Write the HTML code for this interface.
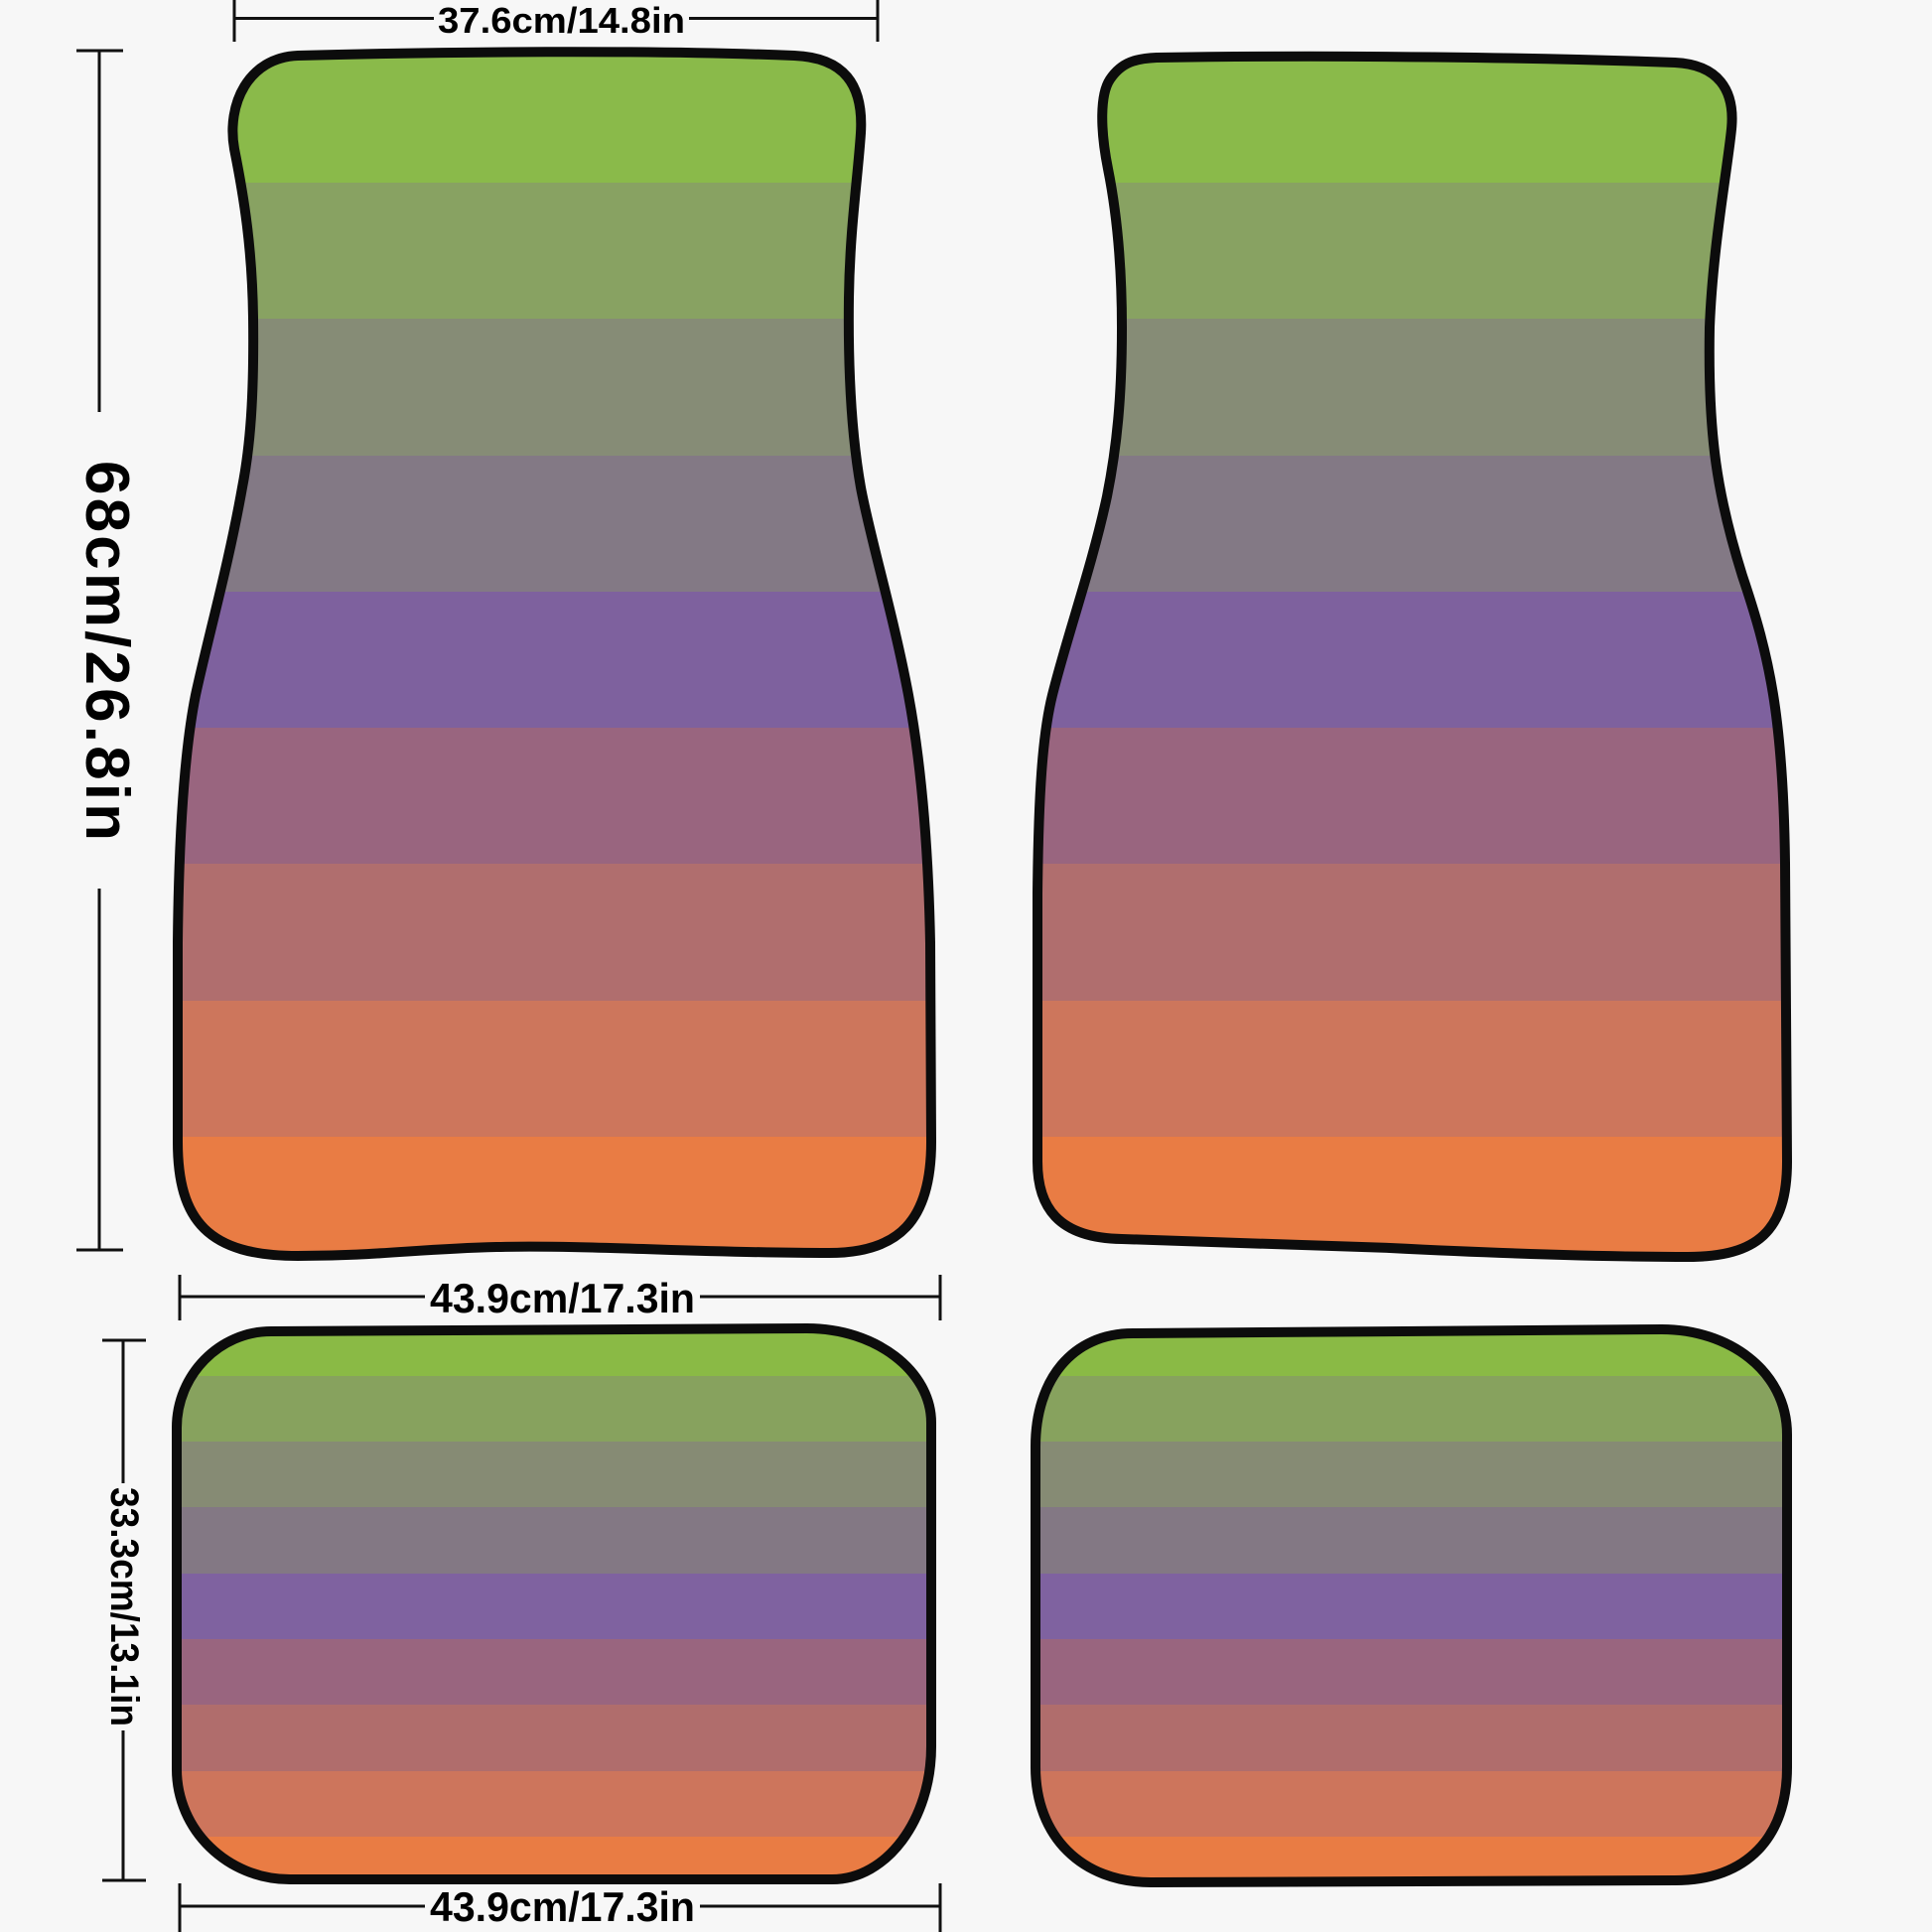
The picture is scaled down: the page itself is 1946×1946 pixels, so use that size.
<!DOCTYPE html>
<html>
<head>
<meta charset="utf-8">
<style>
  html, body { margin: 0; padding: 0; background: #f7f7f7; }
  svg { display: block; }
  text { font-family: "Liberation Sans", Arial, sans-serif; font-weight: bold; fill: #000; }
</style>
</head>
<body>
<svg width="1946" height="1946" viewBox="0 0 1946 1946" xmlns="http://www.w3.org/2000/svg">
  <rect x="0" y="0" width="1946" height="1946" fill="#f7f7f7"/>
  <defs>
    <path id="fl" d="M 300 56 C 450 52, 650 50, 800 56 C 850 58, 870 85, 867 134 C 864 180, 856 230, 855 300 C 854 380, 858 440, 867 491 C 876 540, 900 620, 915 700 C 928 770, 935 850, 937 950 L 938 1150 C 938 1230, 905 1262, 835 1262 C 700 1262, 600 1254, 500 1256 C 420 1258, 380 1265, 300 1265 C 210 1265, 179 1230, 179 1150 L 179 950 C 180 850, 185 760, 197 700 C 210 640, 230 570, 244 491 C 252 450, 256 400, 255 320 C 254 250, 246 200, 236 150 C 228 105, 250 58, 300 56 Z"/>
    <path id="fr" d="M 1165 58 C 1350 55, 1550 58, 1687 63 C 1730 65, 1748 90, 1744 130 C 1740 170, 1725 250, 1722 330 C 1720 440, 1730 500, 1755 580 C 1782 660, 1796 720, 1798 869 L 1800 1170 C 1800 1240, 1770 1266, 1700 1266 C 1600 1266, 1500 1262, 1400 1257 C 1300 1253, 1200 1250, 1130 1248 C 1065 1247, 1045 1215, 1045 1170 L 1045 900 C 1046 800, 1050 740, 1060 700 C 1075 640, 1100 570, 1115 500 C 1125 450, 1130 400, 1130 330 C 1130 250, 1122 200, 1116 170 C 1108 130, 1108 95, 1118 80 C 1130 62, 1145 59, 1165 58 Z"/>
    <path id="rl" d="M 273 1341 L 813 1338 C 882 1338, 938 1381, 938 1433 L 938 1759 C 938 1833, 893 1893, 838 1893 L 292 1893 C 229 1893, 178 1843, 178 1782 L 178 1438 C 178 1385, 221 1341, 273 1341 Z"/>
    <path id="rr" d="M 1141 1343 L 1674 1339 C 1740 1339, 1800 1380, 1800 1445 L 1800 1780 C 1800 1850, 1760 1894, 1687 1894 L 1159 1896 C 1090 1896, 1043 1850, 1043 1780 L 1043 1457 C 1043 1390, 1080 1343, 1141 1343 Z"/>
    <clipPath id="cfl"><use href="#fl"/></clipPath>
    <clipPath id="cfr"><use href="#fr"/></clipPath>
    <clipPath id="crl"><use href="#rl"/></clipPath>
    <clipPath id="crr"><use href="#rr"/></clipPath>
    <g id="frontStripes">
      <rect x="0" y="0" width="1946" height="184" fill="#8aba4a"/>
      <rect x="0" y="184" width="1946" height="137" fill="#88a262"/>
      <rect x="0" y="321" width="1946" height="138" fill="#868c76"/>
      <rect x="0" y="459" width="1946" height="137" fill="#837985"/>
      <rect x="0" y="596" width="1946" height="137" fill="#7e619e"/>
      <rect x="0" y="733" width="1946" height="137" fill="#99657f"/>
      <rect x="0" y="870" width="1946" height="138" fill="#b06e6e"/>
      <rect x="0" y="1008" width="1946" height="137" fill="#cd765c"/>
      <rect x="0" y="1145" width="1946" height="160" fill="#e97c44"/>
    </g>
    <g id="rearStripes">
      <rect x="0" y="1320" width="1946" height="66" fill="#8aba45"/>
      <rect x="0" y="1386" width="1946" height="66" fill="#87a25e"/>
      <rect x="0" y="1452" width="1946" height="66" fill="#868b74"/>
      <rect x="0" y="1518" width="1946" height="67" fill="#837884"/>
      <rect x="0" y="1585" width="1946" height="66" fill="#7f62a0"/>
      <rect x="0" y="1651" width="1946" height="66" fill="#99657f"/>
      <rect x="0" y="1717" width="1946" height="67" fill="#b06d6c"/>
      <rect x="0" y="1784" width="1946" height="66" fill="#cd755c"/>
      <rect x="0" y="1850" width="1946" height="60" fill="#e97c44"/>
    </g>
  </defs>

  <!-- Front mats -->
  <g clip-path="url(#cfl)"><use href="#frontStripes"/></g>
  <use href="#fl" fill="none" stroke="#0c0c0c" stroke-width="10" stroke-linejoin="round"/>
  <g clip-path="url(#cfr)"><use href="#frontStripes"/></g>
  <use href="#fr" fill="none" stroke="#0c0c0c" stroke-width="10" stroke-linejoin="round"/>

  <!-- Rear mats -->
  <g clip-path="url(#crl)"><use href="#rearStripes"/></g>
  <use href="#rl" fill="none" stroke="#0c0c0c" stroke-width="10" stroke-linejoin="round"/>
  <g clip-path="url(#crr)"><use href="#rearStripes"/></g>
  <use href="#rr" fill="none" stroke="#0c0c0c" stroke-width="10" stroke-linejoin="round"/>

  <!-- Dimension lines -->
  <g stroke="#111" stroke-width="3" fill="none">
    <line x1="236" y1="18.5" x2="437" y2="18.5"/>
    <line x1="694" y1="18.5" x2="884" y2="18.5"/>
    <line x1="236" y1="0" x2="236" y2="42"/>
    <line x1="884" y1="0" x2="884" y2="42"/>
    <line x1="100" y1="51" x2="100" y2="415"/>
    <line x1="100" y1="895" x2="100" y2="1259"/>
    <line x1="77" y1="51" x2="124" y2="51"/>
    <line x1="77" y1="1259" x2="124" y2="1259"/>
    <line x1="181" y1="1306" x2="428" y2="1306"/>
    <line x1="705" y1="1306" x2="947" y2="1306"/>
    <line x1="181" y1="1284" x2="181" y2="1330"/>
    <line x1="947" y1="1284" x2="947" y2="1330"/>
    <line x1="181" y1="1920" x2="428" y2="1920"/>
    <line x1="705" y1="1920" x2="947" y2="1920"/>
    <line x1="181" y1="1897" x2="181" y2="1946"/>
    <line x1="947" y1="1897" x2="947" y2="1946"/>
    <line x1="124" y1="1350" x2="124" y2="1494"/>
    <line x1="124" y1="1743" x2="124" y2="1894"/>
    <line x1="103" y1="1350" x2="147" y2="1350"/>
    <line x1="103" y1="1894" x2="147" y2="1894"/>
  </g>

  <!-- Labels -->
  <text x="441" y="33" font-size="36" textLength="249" lengthAdjust="spacingAndGlyphs">37.6cm/14.8in</text>
  <text transform="translate(87,464) rotate(90)" x="0" y="0" font-size="62" textLength="383" lengthAdjust="spacing">68cm/26.8in</text>
  <text x="433" y="1322" font-size="42" textLength="267" lengthAdjust="spacingAndGlyphs">43.9cm/17.3in</text>
  <text x="433" y="1935" font-size="42" textLength="267" lengthAdjust="spacingAndGlyphs">43.9cm/17.3in</text>
  <text transform="translate(112,1498) rotate(90)" x="0" y="0" font-size="40" textLength="241" lengthAdjust="spacingAndGlyphs">33.3cm/13.1in</text>
</svg>
</body>
</html>
